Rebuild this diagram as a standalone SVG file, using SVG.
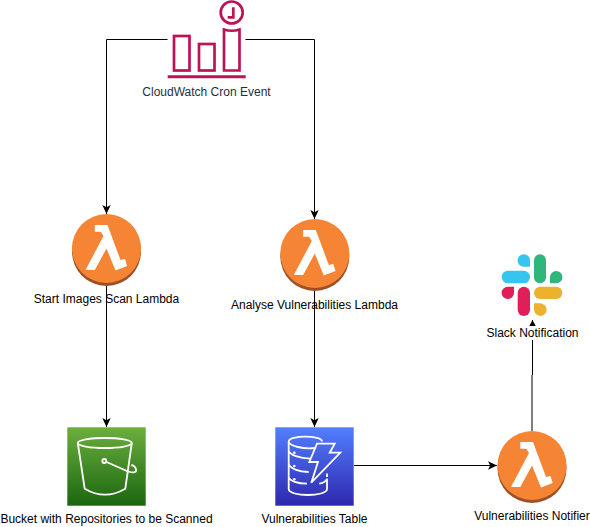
<svg xmlns="http://www.w3.org/2000/svg" width="590" height="527" viewBox="0 0 590 527">
<style>
text{font-family:"Liberation Sans",Arial,Helvetica,sans-serif;font-size:12px;text-anchor:middle;fill:#000}
.edge{fill:none;stroke:#000;stroke-width:1}
.cw{fill:none;stroke:#BC1356;stroke-width:2.700}
.w{fill:none;stroke:#fff;stroke-width:1.800}
.d{fill:#fff}
.ic{fill:#fff}
</style>
<defs>
<marker id="arrow" markerUnits="userSpaceOnUse" markerWidth="10" markerHeight="10" refX="9" refY="4.500" orient="auto"><path d="M0 .3L9 4.500L0 8.700L2.200 4.500Z" fill="#000"/></marker>
<marker id="tri" markerUnits="userSpaceOnUse" markerWidth="7" markerHeight="7" refX="6" refY="3.200" orient="auto"><path d="M0 0L6 3.200L0 6.400Z" fill="#000"/></marker>
<linearGradient id="s3" x1="0" y1="1" x2="0" y2="0"><stop offset="0" stop-color="#1B660F"/><stop offset="1" stop-color="#6CAE3E"/></linearGradient>
<linearGradient id="ddb" x1="0" y1="1" x2="0" y2="0"><stop offset="0" stop-color="#2E27AD"/><stop offset="1" stop-color="#527FFF"/></linearGradient>
<g id="lam">
<circle cx="0" cy="3" r="34.500" fill="#9D5025"/>
<circle cx="0" cy="0" r="34.500" fill="#F58534"/>
<path class="ic" d="M-11.700-23.500H1L14 11.500L18.500 10.500L20.700 17.500L9 22L0 0L-11.700 21.500H-21L-3-12.500L-5.700-16.800H-11.700Z"/>
</g>
</defs>
<rect width="590" height="527" fill="#fff"/>
<g id="connectors">
<path class="edge" d="M167.500 39.500H106.500V214" marker-end="url(#arrow)"/>
<path class="edge" d="M245.500 39.500H314.500V219" marker-end="url(#arrow)"/>
<path class="edge" d="M106.500 285V427" marker-end="url(#arrow)"/>
<path class="edge" d="M314.500 290V427" marker-end="url(#arrow)"/>
<path class="edge" d="M354 465.500H497" marker-end="url(#arrow)"/>
<path class="edge" d="M532 431V375"/>
<path class="edge" d="M532.500 375V340"/>
<path class="edge" d="M532.500 326V320" marker-end="url(#tri)"/>
</g>
<g id="cloudwatch">
<circle class="cw" cx="231.700" cy="12.500" r="11"/>
<path class="cw" d="M233.300 7.300V17.300H227.700"/>
<rect class="cw" x="174" y="36" width="15.500" height="34.500"/>
<rect class="cw" x="199" y="44" width="15.500" height="26.500"/>
<path class="cw" d="M224 70.500V29.500Q232 32 239.500 29.500V70.500Z"/>
<path class="cw" style="stroke-width:3" d="M167.700 76.700H245.700"/>
<text x="206.500" y="96" style="fill:#232F3E">CloudWatch Cron Event</text>
</g>
<g id="lambda-start">
<use href="#lam" x="106.500" y="248.500"/>
<text x="106.500" y="302.500">Start Images Scan Lambda</text>
</g>
<g id="lambda-analyse">
<use href="#lam" x="314.800" y="253.500"/>
<text x="314.500" y="309">Analyse Vulnerabilities Lambda</text>
</g>
<g id="lambda-notifier">
<use href="#lam" x="532" y="465.500"/>
<text x="532" y="519.500">Vulnerabilities Notifier</text>
</g>
<g id="slack">
<rect x="501.700" y="270.700" width="28.300" height="12.600" rx="6.300" fill="#36C5F0"/>
<path d="M530 266.700H523.800A6.200 6.200 0 1 1 530 260.500Z" fill="#36C5F0"/>
<rect x="534" y="254.300" width="12" height="29" rx="6" fill="#2EB67D"/>
<path d="M550 283.300V277A6.200 6.200 0 1 1 556.200 283.300Z" fill="#2EB67D"/>
<path d="M514 286.700V292.900A6.200 6.200 0 1 1 507.800 286.700Z" fill="#E01E5A"/>
<rect x="517.700" y="286.700" width="12.300" height="29.300" rx="6.150" fill="#E01E5A"/>
<rect x="534" y="286.700" width="28.300" height="12.300" rx="6.150" fill="#ECB22E"/>
<path d="M534 303.300H540A6.300 6.300 0 1 1 534 309.600Z" fill="#ECB22E"/>
<text x="532.500" y="337">Slack Notification</text>
</g>
<g id="s3-bucket">
<rect x="67.300" y="427.300" width="78.400" height="78.400" fill="url(#s3)"/>
<ellipse class="w" cx="104.800" cy="443" rx="27" ry="5"/>
<path class="w" d="M77.800 443L84.700 488.700Q105 500.700 125.300 488.700L131.800 443"/>
<circle class="w" cx="104.300" cy="461" r="2"/>
<path class="w" d="M106.500 462L128 471.500Q137 474 136 469.500Q135.500 466 131.300 465"/>
<text x="106.500" y="523">Bucket with Repositories to be Scanned</text>
</g>
<g id="dynamodb">
<rect x="275.300" y="427.300" width="78.400" height="78.400" fill="url(#ddb)"/>
<path class="w" d="M322 441.500C322 435 288.700 435 288.700 441.500C288.700 446 304 449.500 315 448M288.700 441.500V489C288.700 497 327 497 327 489V478.700C326 481.500 323 483 319.300 483.700M288.700 450.300C289.500 455 300 458.500 310.300 458.700M288.700 463.700C289.500 468.500 299 471.700 308.700 472M288.700 477C289.500 481 298 483.500 307 483.700M327 473.500V477"/>
<path class="w" d="M317 443.700H334.700L329.700 452.700H340.300L311.300 482.700L318 462H309.300Z"/>
<circle class="d" cx="294.300" cy="452.700" r="1.300"/>
<circle class="d" cx="294.300" cy="466" r="1.300"/>
<circle class="d" cx="294.300" cy="479.300" r="1.300"/>
<text x="314.500" y="523">Vulnerabilities Table</text>
</g>
</svg>
